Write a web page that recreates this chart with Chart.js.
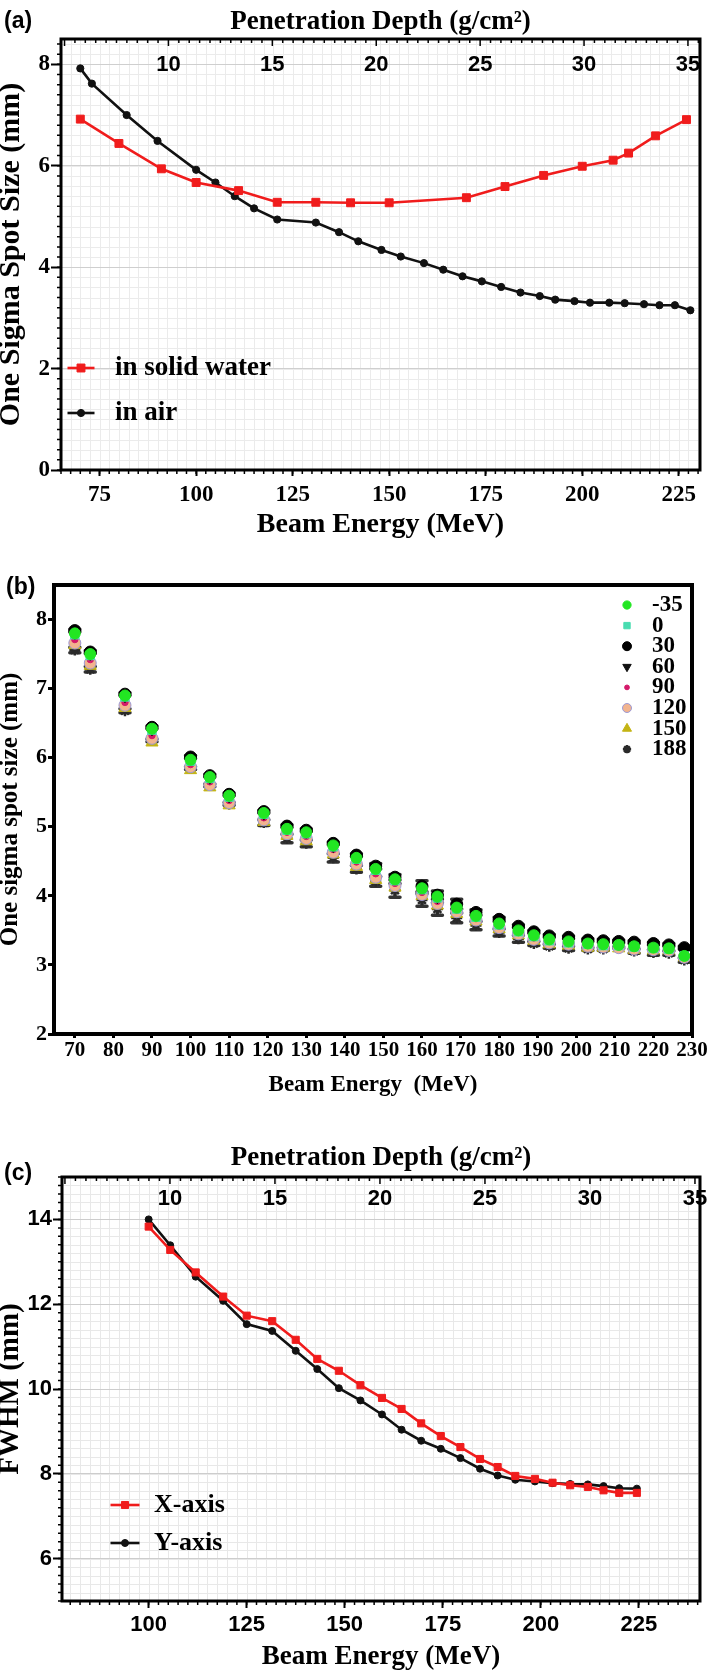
<!DOCTYPE html>
<html>
<head>
<meta charset="utf-8">
<script src="https://cdn.jsdelivr.net/npm/chart.js@4.4.1/dist/chart.umd.min.js"></script>
<style>
  html, body { margin: 0; padding: 0; background: #fff; }
  body { position: relative; width: 709px; height: 1673px; overflow: hidden; }
  canvas { position: absolute; left: 0; }
  .tag { position: absolute; font: bold 23px "Liberation Sans", Arial, sans-serif; line-height: 1; color: #000; }
</style>
</head>
<body>
<canvas id="chartA" width="709" height="560" style="top:0"></canvas>
<canvas id="chartB" width="709" height="545" style="top:560px"></canvas>
<canvas id="chartC" width="709" height="568" style="top:1105px"></canvas>
<div class="tag" style="left:4px;top:9px">(a)</div>
<div class="tag" style="left:6px;top:575px">(b)</div>
<div class="tag" style="left:4px;top:1161px">(c)</div>
<script>
const SERIF = '"Liberation Serif", "Times New Roman", serif';
const SANS = '"Liberation Sans", Arial, sans-serif';
const RED = '#f01c1c';
const BLACK = '#111111';

// (a) one sigma spot size, solid water vs air
const energyWater = [70, 80, 91, 100, 111, 121, 131, 140, 150, 170, 180, 190, 200, 208, 212, 219, 227];
const sigmaWater = [6.92, 6.44, 5.94, 5.67, 5.51, 5.28, 5.28, 5.27, 5.27, 5.37, 5.59, 5.81, 5.99, 6.11, 6.25, 6.59, 6.91];
const energyAir = [70, 73, 82, 90, 100, 105, 110, 115, 121, 131, 137, 142, 148, 153, 159, 164, 169, 174, 179, 184, 189, 193, 198, 202, 207, 211, 216, 220, 224, 228];
const sigmaAir = [7.92, 7.62, 7.0, 6.49, 5.92, 5.67, 5.4, 5.16, 4.94, 4.88, 4.69, 4.51, 4.34, 4.21, 4.08, 3.95, 3.82, 3.72, 3.61, 3.5, 3.43, 3.36, 3.33, 3.3, 3.3, 3.29, 3.27, 3.25, 3.25, 3.15];
const ticksAx = [75, 100, 125, 150, 175, 200, 225];
const ticksAy = [0, 2, 4, 6, 8];
const depthTicks = [10, 15, 20, 25, 30, 35];

// (b) spot size per gantry angle
const energyB = [70, 74, 83, 90, 100, 105, 110, 119, 125, 130, 137, 143, 148, 153, 160, 164, 169, 174, 180, 185, 189, 193, 198, 203, 207, 211, 215, 220, 224, 228];
const gantry = ['-35', '0', '30', '60', '90', '120', '150', '188'];
const sizeM35 = [7.80, 7.50, 6.90, 6.42, 5.97, 5.72, 5.45, 5.20, 4.97, 4.92, 4.73, 4.55, 4.39, 4.24, 4.11, 3.99, 3.83, 3.71, 3.60, 3.50, 3.43, 3.37, 3.34, 3.31, 3.30, 3.29, 3.27, 3.25, 3.24, 3.13];
const size0 = [7.78, 7.48, 6.88, 6.40, 5.95, 5.70, 5.43, 5.18, 4.95, 4.90, 4.71, 4.53, 4.37, 4.22, 4.09, 3.97, 3.81, 3.69, 3.58, 3.48, 3.41, 3.35, 3.32, 3.30, 3.28, 3.28, 3.26, 3.24, 3.23, 3.13];
const size30 = [7.84, 7.53, 6.92, 6.44, 6.01, 5.74, 5.47, 5.22, 5.01, 4.95, 4.76, 4.59, 4.43, 4.27, 4.14, 4.01, 3.88, 3.76, 3.66, 3.56, 3.48, 3.42, 3.40, 3.36, 3.35, 3.34, 3.33, 3.31, 3.29, 3.25];
const size60 = [7.80, 7.50, 6.89, 6.41, 5.98, 5.71, 5.44, 5.19, 4.98, 4.92, 4.72, 4.56, 4.40, 4.25, 4.12, 3.98, 3.85, 3.73, 3.63, 3.53, 3.45, 3.39, 3.37, 3.34, 3.33, 3.32, 3.31, 3.29, 3.27, 3.22];
const size90 = [7.71, 7.42, 6.80, 6.32, 5.90, 5.65, 5.38, 5.13, 4.92, 4.86, 4.67, 4.49, 4.32, 4.18, 4.05, 3.92, 3.79, 3.67, 3.56, 3.47, 3.39, 3.34, 3.31, 3.28, 3.27, 3.26, 3.24, 3.23, 3.22, 3.12];
const size120 = [7.66, 7.37, 6.76, 6.28, 5.87, 5.61, 5.35, 5.10, 4.90, 4.83, 4.63, 4.46, 4.27, 4.15, 4.02, 3.89, 3.77, 3.65, 3.54, 3.45, 3.37, 3.32, 3.30, 3.27, 3.26, 3.25, 3.23, 3.22, 3.21, 3.11];
const size150 = [7.63, 7.33, 6.72, 6.22, 5.82, 5.57, 5.31, 5.07, 4.87, 4.79, 4.60, 4.42, 4.23, 4.12, 4.00, 3.86, 3.74, 3.63, 3.52, 3.43, 3.35, 3.30, 3.28, 3.25, 3.25, 3.24, 3.22, 3.21, 3.21, 3.11];
const size188 = [7.56, 7.28, 6.68, 6.25, 5.85, 5.60, 5.33, 5.06, 4.83, 4.76, 4.55, 4.39, 4.21, 4.08, 3.94, 3.81, 3.68, 3.57, 3.47, 3.38, 3.31, 3.27, 3.24, 3.23, 3.23, 3.25, 3.20, 3.18, 3.17, 3.07];
const err30 = [0.02, 0.02, 0.02, 0.02, 0.02, 0.02, 0.02, 0.02, 0.02, 0.02, 0.02, 0.02, 0.04, 0.04, 0.08, 0.06, 0.07, 0.04, 0.03, 0.02, 0.02, 0.02, 0.02, 0.02, 0.02, 0.02, 0.02, 0.02, 0.02, 0.02];
const err188 = [0.04, 0.04, 0.03, 0.02, 0.02, 0.02, 0.02, 0.04, 0.06, 0.05, 0.06, 0.05, 0.07, 0.10, 0.09, 0.09, 0.07, 0.06, 0.05, 0.05, 0.03, 0.03, 0.03, 0.02, 0.02, 0.01, 0.03, 0.04, 0.03, 0.03];
const ticksBx = [70, 80, 90, 100, 110, 120, 130, 140, 150, 160, 170, 180, 190, 200, 210, 220, 230];
const ticksBy = [2, 3, 4, 5, 6, 7, 8];

// (c) FWHM in x and y
const energyC = [100, 105.5, 112, 119, 125, 131.5, 137.5, 143, 148.5, 154, 159.5, 164.5, 169.5, 174.5, 179.5, 184.5, 189, 193.5, 198.5, 203, 207.5, 212, 216, 220, 224.5];
const fwhmX = [13.83, 13.28, 12.75, 12.18, 11.73, 11.6, 11.16, 10.71, 10.43, 10.09, 9.79, 9.53, 9.19, 8.89, 8.63, 8.35, 8.16, 7.95, 7.88, 7.79, 7.73, 7.69, 7.61, 7.55, 7.55];
const fwhmY = [14.0, 13.39, 12.65, 12.08, 11.53, 11.37, 10.9, 10.47, 10.02, 9.73, 9.40, 9.04, 8.78, 8.59, 8.37, 8.12, 7.96, 7.86, 7.82, 7.78, 7.76, 7.75, 7.71, 7.66, 7.65];
const ticksCx = [100, 125, 150, 175, 200, 225];
const ticksCy = [6, 8, 10, 12, 14];

const pts = (xs, ys) => xs.map((x, i) => ({x: x, y: ys[i]}));
const useTicks = vals => s => { s.ticks = vals.map(v => ({value: v})); };
const boxW = w => s => { s.width = w; s.paddingTop = 0; s.paddingBottom = 0; };
const boxH = h => s => { s.height = h; s.paddingLeft = 0; s.paddingRight = 0; };
const bold = (family, size, lh) => ({family: family, size: size, weight: 'bold', lineHeight: lh || 1.2});

function steps(min, max, st) {
  const out = [];
  const start = Math.ceil(min / st - 1e-9);
  for (let i = start; i * st <= max + 1e-9; i++) out.push(i * st);
  return out;
}

// light minor grid under everything, minor ticks and frame on top
const minorPlugin = {
  id: 'minor',
  beforeDraw(chart, args, o) {
    if (!o.grid) return;
    const ctx = chart.ctx, a = chart.chartArea;
    const xs = chart.scales.x, ys = chart.scales.y;
    ctx.save();
    ctx.strokeStyle = o.grid;
    ctx.lineWidth = 1;
    ctx.beginPath();
    steps(xs.min, xs.max, o.xStep).forEach(v => {
      const p = Math.round(xs.getPixelForValue(v)) + 0.5;
      ctx.moveTo(p, a.top); ctx.lineTo(p, a.bottom);
    });
    steps(ys.min, ys.max, o.yStep).forEach(v => {
      const p = Math.round(ys.getPixelForValue(v)) + 0.5;
      ctx.moveTo(a.left, p); ctx.lineTo(a.right, p);
    });
    ctx.stroke();
    ctx.restore();
  },
  afterDraw(chart, args, o) {
    const ctx = chart.ctx, a = chart.chartArea;
    const xs = chart.scales.x, ys = chart.scales.y, xt = chart.scales.xTop;
    ctx.save();
    ctx.strokeStyle = '#000';
    ctx.lineWidth = 1.5;
    ctx.beginPath();
    if (o.xStep) steps(xs.min, xs.max, o.xStep).forEach(v => {
      const p = xs.getPixelForValue(v);
      ctx.moveTo(p, a.bottom); ctx.lineTo(p, a.bottom + o.tickLen);
    });
    if (o.yStep) steps(ys.min, ys.max, o.yStep).forEach(v => {
      const p = ys.getPixelForValue(v);
      ctx.moveTo(a.left, p); ctx.lineTo(a.left - o.tickLen, p);
    });
    if (xt && o.topStep) steps(xt.min, xt.max, o.topStep).forEach(v => {
      const p = xt.getPixelForValue(v);
      const len = Math.abs(v % 5) < 1e-6 ? o.tickLen + 3 : o.tickLen;
      ctx.moveTo(p, a.top); ctx.lineTo(p, a.top + len);
    });
    ctx.stroke();
    ctx.lineWidth = o.frame;
    ctx.strokeRect(a.left, a.top, a.right - a.left, a.bottom - a.top);
    ctx.restore();
  }
};

// legend drawn inside the plot
const keyPlugin = {
  id: 'key',
  afterDraw(chart, args, o) {
    const ctx = chart.ctx;
    ctx.save();
    chart.data.datasets.forEach((ds, i) => {
      const y = o.y + i * o.dy;
      if (o.line) {
        ctx.strokeStyle = ds.borderColor;
        ctx.lineWidth = ds.borderWidth;
        ctx.beginPath();
        ctx.moveTo(o.x - o.line / 2, y); ctx.lineTo(o.x + o.line / 2, y);
        ctx.stroke();
      }
      ctx.fillStyle = ds.pointBackgroundColor;
      ctx.strokeStyle = ds.pointBorderColor;
      ctx.lineWidth = ds.pointBorderWidth;
      Chart.helpers.drawPoint(ctx, {
        pointStyle: ds.pointStyle, rotation: ds.pointRotation || 0,
        radius: ds.pointRadius * (o.scale || 1), borderWidth: ds.pointBorderWidth
      }, o.x, y);
      ctx.fillStyle = '#000';
      ctx.font = o.font;
      ctx.textBaseline = 'middle';
      ctx.textAlign = 'left';
      ctx.fillText(ds.label, o.textX, y);
    });
    ctx.restore();
  }
};

const errorPlugin = {
  id: 'errbars',
  beforeDatasetsDraw(chart, args, o) {
    const ctx = chart.ctx, ys = chart.scales.y;
    ctx.save();
    ctx.strokeStyle = o.color;
    ctx.lineWidth = o.width;
    ctx.lineCap = 'round';
    chart.data.datasets.forEach((ds, i) => {
      if (!ds.errors) return;
      chart.getDatasetMeta(i).data.forEach((pt, j) => {
        const v = ds.data[j].y, e = ds.errors[j];
        const y1 = ys.getPixelForValue(v + e), y2 = ys.getPixelForValue(v - e);
        ctx.beginPath();
        ctx.moveTo(pt.x, y1); ctx.lineTo(pt.x, y2);
        ctx.moveTo(pt.x - o.cap, y1); ctx.lineTo(pt.x + o.cap, y1);
        ctx.moveTo(pt.x - o.cap, y2); ctx.lineTo(pt.x + o.cap, y2);
        ctx.stroke();
      });
    });
    ctx.restore();
  }
};

function lineSet(label, xs, ys, color, style, r, rot) {
  return {
    label: label, data: pts(xs, ys), borderColor: color, backgroundColor: color,
    pointBackgroundColor: color, pointBorderColor: color, pointBorderWidth: 1,
    borderWidth: 2.6, pointStyle: style, pointRadius: r, pointRotation: rot || 0, tension: 0
  };
}

const base = {
  responsive: false, animation: false, events: [], devicePixelRatio: 1,
};

// ---------- (a) ----------
new Chart(document.getElementById('chartA'), {
  type: 'line',
  data: {
    datasets: [
      lineSet('in solid water', energyWater, sigmaWater, RED, 'rect', 5.6),
      lineSet('in air', energyAir, sigmaAir, BLACK, 'circle', 3.6)
    ]
  },
  options: Object.assign({}, base, {
    layout: {padding: {left: 0, right: 9, top: 0, bottom: 0}},
    plugins: {
      legend: {display: false}, tooltip: {enabled: false},
      minor: {grid: '#ebebeb', xStep: 2.5, yStep: 0.2, topStep: 0.5, tickLen: 4, frame: 3},
      key: {x: 81, y: 368, dy: 45, line: 27, textX: 115, font: 'bold 27px ' + SERIF}
    },
    scales: {
      x: {
        type: 'linear', position: 'bottom', min: 65, max: 230.5, bounds: 'data',
        afterFit: boxH(90), afterBuildTicks: useTicks(ticksAx),
        grid: {drawOnChartArea: false, tickLength: 6, tickColor: '#000', tickWidth: 2},
        border: {display: false},
        ticks: {font: bold(SERIF, 23), color: '#000', padding: 5, maxRotation: 0, autoSkip: false},
        title: {display: true, text: 'Beam Energy (MeV)', color: '#000', font: bold(SERIF, 28), padding: {top: 0, bottom: 18}}
      },
      xTop: {
        type: 'linear', axis: 'x', position: 'top', min: 4.83, max: 35.58, bounds: 'data',
        afterFit: boxH(39), afterBuildTicks: useTicks(depthTicks),
        grid: {display: false}, border: {display: false},
        ticks: {mirror: true, padding: 13, font: bold(SANS, 22), color: '#000', maxRotation: 0, autoSkip: false},
        title: {display: true, text: 'Penetration Depth (g/cm²)', color: '#000', font: bold(SERIF, 27), padding: {top: 6, bottom: 0}}
      },
      y: {
        type: 'linear', min: 0, max: 8.5, bounds: 'data',
        afterFit: boxW(61), afterBuildTicks: useTicks(ticksAy),
        grid: {color: '#cfcfcf', tickColor: '#000', tickLength: 10, tickWidth: 2},
        border: {display: false},
        ticks: {font: bold(SERIF, 23), color: '#000', padding: 1},
        title: {display: true, text: 'One Sigma Spot Size (mm)', color: '#000', font: bold(SERIF, 30, 0.75), padding: 0}
      }
    }
  }),
  plugins: [minorPlugin, keyPlugin]
});

// ---------- (b) ----------
const seriesB = [sizeM35, size0, size30, size60, size90, size120, size150, size188];
const lookB = [
  {c: '#22e622', s: 'circle', r: 5.5, b: '#22e622'},
  {c: '#48dcb0', s: 'rect', r: 6, b: '#48dcb0'},
  {c: '#000000', s: 'circle', r: 6, b: '#000000'},
  {c: '#111111', s: 'triangle', r: 6.5, b: '#111111', rot: 180},
  {c: '#d41a6a', s: 'circle', r: 3.2, b: '#d41a6a'},
  {c: '#f2b48e', s: 'circle', r: 6, b: '#9c9ad6'},
  {c: '#c4b414', s: 'triangle', r: 7, b: '#c4b414'},
  {c: '#2a2a2a', s: 'star', r: 5.5, b: '#2a2a2a'}
];
const errorsB = {'30': err30, '188': err188};

new Chart(document.getElementById('chartB'), {
  type: 'scatter',
  data: {
    datasets: gantry.map((g, i) => ({
      label: g, data: pts(energyB, seriesB[i]), errors: errorsB[g],
      pointStyle: lookB[i].s, pointRadius: lookB[i].r, pointRotation: lookB[i].rot || 0,
      pointBackgroundColor: lookB[i].c, pointBorderColor: lookB[i].b,
      pointBorderWidth: lookB[i].s === 'star' ? 2.5 : 1, showLine: false
    }))
  },
  options: Object.assign({}, base, {
    layout: {padding: {left: 0, right: 17, top: 25, bottom: 0}},
    plugins: {
      legend: {display: false}, tooltip: {enabled: false},
      minor: {frame: 4},
      errbars: {color: '#333333', width: 3.5, cap: 5},
      key: {x: 627, y: 45, dy: 20.6, line: 0, textX: 652, scale: 0.75, font: 'bold 23px ' + SERIF}
    },
    scales: {
      x: {
        type: 'linear', position: 'bottom', min: 64.6, max: 230, bounds: 'data',
        afterFit: boxH(71), afterBuildTicks: useTicks(ticksBx),
        grid: {drawOnChartArea: false, tickLength: 4, tickColor: '#000', tickWidth: 3},
        border: {display: false},
        ticks: {font: bold(SERIF, 21), color: '#000', padding: 0, maxRotation: 0, autoSkip: false},
        title: {display: true, text: 'Beam Energy  (MeV)', color: '#000', font: bold(SERIF, 23), padding: {top: 0, bottom: 6}}
      },
      y: {
        type: 'linear', min: 2, max: 8.5, bounds: 'data',
        afterFit: boxW(54), afterBuildTicks: useTicks(ticksBy),
        grid: {drawOnChartArea: false, tickColor: '#000', tickLength: 6, tickWidth: 3},
        border: {display: false},
        ticks: {font: bold(SERIF, 22), color: '#000', padding: 1},
        title: {display: true, text: 'One sigma spot size (mm)', color: '#000', font: bold(SERIF, 25, 0.85), padding: 0}
      }
    }
  }),
  plugins: [minorPlugin, errorPlugin, keyPlugin]
});

// ---------- (c) ----------
new Chart(document.getElementById('chartC'), {
  type: 'line',
  data: {
    datasets: [
      lineSet('X-axis', energyC, fwhmX, RED, 'rect', 5),
      lineSet('Y-axis', energyC, fwhmY, BLACK, 'circle', 3.5)
    ]
  },
  options: Object.assign({}, base, {
    layout: {padding: {left: 0, right: 9, top: 0, bottom: 0}},
    plugins: {
      legend: {display: false}, tooltip: {enabled: false},
      minor: {grid: '#e8e8e8', xStep: 2.5, yStep: 0.2, topStep: 0.5, tickLen: 4, frame: 3},
      key: {x: 125, y: 400, dy: 38, line: 29, textX: 154, font: 'bold 26px ' + SERIF}
    },
    scales: {
      x: {
        type: 'linear', position: 'bottom', min: 77.9, max: 240.6, bounds: 'data',
        afterFit: boxH(72), afterBuildTicks: useTicks(ticksCx),
        grid: {drawOnChartArea: false, tickLength: 7, tickColor: '#000', tickWidth: 2},
        border: {display: false},
        ticks: {font: bold(SANS, 22), color: '#000', padding: 4, maxRotation: 0, autoSkip: false},
        title: {display: true, text: 'Beam Energy (MeV)', color: '#000', font: bold(SERIF, 27, 1.1), padding: {top: 0, bottom: 1}}
      },
      xTop: {
        type: 'linear', axis: 'x', position: 'top', min: 4.86, max: 35.24, bounds: 'data',
        afterFit: boxH(72), afterBuildTicks: useTicks(depthTicks),
        grid: {display: false}, border: {display: false},
        ticks: {mirror: true, padding: 9, font: bold(SANS, 22), color: '#000', maxRotation: 0, autoSkip: false},
        title: {display: true, text: 'Penetration Depth (g/cm²)', color: '#000', font: bold(SERIF, 27), padding: {top: 37, bottom: 0}}
      },
      y: {
        type: 'linear', min: 5, max: 15, bounds: 'data',
        afterFit: boxW(62), afterBuildTicks: useTicks(ticksCy),
        grid: {color: '#cdcdcd', tickColor: '#000', tickLength: 9, tickWidth: 2},
        border: {display: false},
        ticks: {font: bold(SANS, 22), color: '#000', padding: 1},
        title: {display: true, text: 'FWHM (mm)', color: '#000', font: bold(SERIF, 29, 0.7), padding: 0}
      }
    }
  }),
  plugins: [minorPlugin, keyPlugin]
});
</script>
</body>
</html>
